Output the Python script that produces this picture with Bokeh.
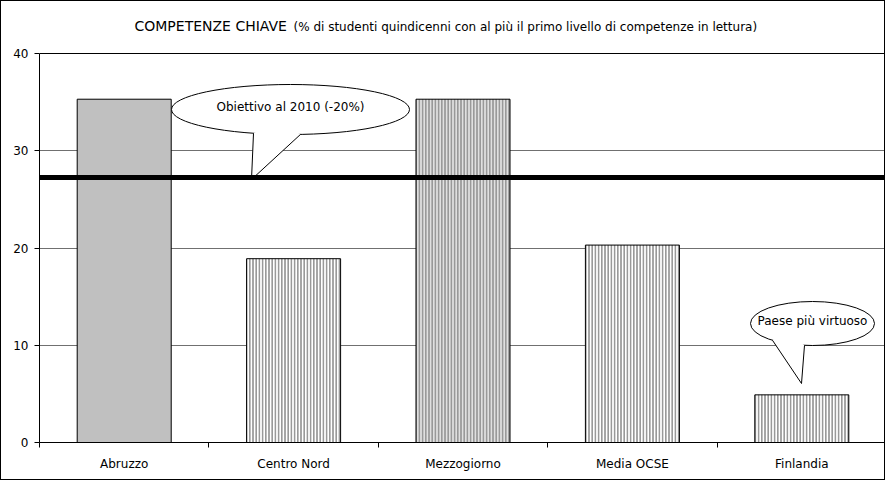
from bokeh.plotting import figure
from bokeh.models import Range1d, FixedTicker, CustomJSTickFormatter, Span, Label, ColumnDataSource
from bokeh.embed import file_html
from bokeh.resources import INLINE

# ---- data ----
categories = ["Abruzzo", "Centro Nord", "Mezzogiorno", "Media OCSE", "Finlandia"]
values = [35.3, 18.9, 35.3, 20.3, 4.9]
target = 27.25
y_ticks = [0, 10, 20, 30, 40]
title_main = "COMPETENZE CHIAVE"
title_sub = "(% di studenti quindicenni con al più il primo livello di competenze in lettura)"
callout_texts = ["Obiettivo al 2010 (-20%)", "Paese più virtuoso"]

# ---- styles ----
fill_colors = ["#c0c0c0", "#ffffff", "#e0e0e0", "#ffffff", "#ffffff"]
hatches = [" ", "|", "|", "|", "|"]
FONT = "DejaVu Sans"

W, H = 885, 480
L, T, B, R = 38, 2, 39, 0
AXIS_TOP = 52                      # canvas px where the value 40 sits
frame_w = W - L - R
frame_h = H - T - B
axis_h = H - AXIS_TOP - B          # px for 0..40
pxx = frame_w / len(categories)
pxy = axis_h / y_ticks[-1]
y_end = frame_h / pxy
OX, OY = 10, 11                    # reference page px of canvas top-left
X0, Y0 = OX + L, OY + H - B        # reference page px of data origin


def dx(sx):
    return (sx - X0) / pxx


def dy(sy):
    return (Y0 - sy) / pxy


p = figure(width=W, height=H, output_backend="svg", toolbar_location=None,
           x_range=Range1d(0, len(categories)), y_range=Range1d(y_ticks[0], y_end),
           min_border_left=L, min_border_top=T, min_border_bottom=B, min_border_right=R)
p.styles = {"border": "1px solid black"}
p.outline_line_color = None
p.background_fill_color = "white"
p.border_fill_color = "white"

src = ColumnDataSource(dict(
    x=[i + 0.5 for i in range(len(categories))],
    top=values, fill=fill_colors, hatch=hatches))
p.vbar(x="x", top="top", width=0.555, bottom=0, source=src,
       fill_color="fill", line_color="black", line_width=1,
       hatch_pattern="hatch", hatch_color="#999999", hatch_scale=3.2, hatch_weight=2)

# axes
xa = p.xaxis[0]
xa.ticker = FixedTicker(ticks=[i + 0.5 for i in range(len(categories))],
                        minor_ticks=list(range(len(categories) + 1)))
xa.formatter = CustomJSTickFormatter(args=dict(names=categories),
                                     code="return names[Math.floor(tick)];")
xa.major_tick_line_color = None
xa.minor_tick_line_color = "black"
xa.minor_tick_out = 5
xa.minor_tick_in = 0
xa.major_label_standoff = 8
xa.axis_line_color = "black"
xa.major_label_text_font = FONT
xa.major_label_text_font_size = "12px"
xa.major_label_text_color = "black"

ya = p.yaxis[0]
ya.ticker = FixedTicker(ticks=y_ticks, minor_ticks=[])
ya.bounds = (y_ticks[0], y_ticks[-1])
ya.major_tick_out = 5
ya.major_tick_in = 0
ya.major_tick_line_color = "black"
ya.axis_line_color = "black"
ya.major_label_standoff = 6
ya.major_label_text_font = FONT
ya.major_label_text_font_size = "12px"
ya.major_label_text_color = "black"

p.xgrid.visible = False
p.ygrid.ticker = FixedTicker(ticks=y_ticks[:-1])
p.ygrid.grid_line_color = "#707070"
p.add_layout(Span(location=y_ticks[-1], dimension="width", line_color="black", line_width=1))

# target line
p.add_layout(Span(location=target, dimension="width", line_color="black", line_width=5))

# title
p.add_layout(Label(x=dx(143), y=dy(35), text=title_main,
                   text_font=FONT, text_font_size="14px",
                   text_baseline="middle", text_align="left", text_color="black"))
p.add_layout(Label(x=dx(302), y=dy(36), text=title_sub,
                   text_font=FONT, text_font_size="12px",
                   text_baseline="middle", text_align="left", text_color="black"))


# callouts: (center sx, sy, w, h, base left sx, base right sx, tip sx, tip sy)
def callout(cx, cy, w, h, bl, br, tx, ty, text):
    a, b = w / 2, h / 2
    def ey(sx):
        return cy + b * max(0.0, 1 - ((sx - cx) / a) ** 2) ** 0.5
    yl, yr = ey(bl), ey(br)
    p.ellipse(x=[dx(cx)], y=[dy(cy)], width=w, height=h, width_units="screen",
              height_units="screen", fill_color="white", line_color="black", line_width=1)
    p.patch(x=[dx(bl), dx((bl + br) / 2), dx(br), dx(tx)],
            y=[dy(yl), dy(cy + b * 0.5), dy(yr), dy(ty)],
            fill_color="white", line_color=None)
    p.segment(x0=[dx(bl), dx(br)], y0=[dy(yl), dy(yr)], x1=[dx(tx), dx(tx)], y1=[dy(ty), dy(ty)],
              line_color="black", line_width=1)
    p.add_layout(Label(x=dx(cx), y=dy(cy - 3), text=text, text_font=FONT, text_font_size="12px",
                       text_baseline="middle", text_align="center", text_color="black"))


callout(299, 119, 238, 50, 262, 309, 260, 189, callout_texts[0])
callout(821, 333, 124, 44, 781, 813, 810, 393, callout_texts[1])

open("out.html", "w").write(file_html(p, INLINE))
